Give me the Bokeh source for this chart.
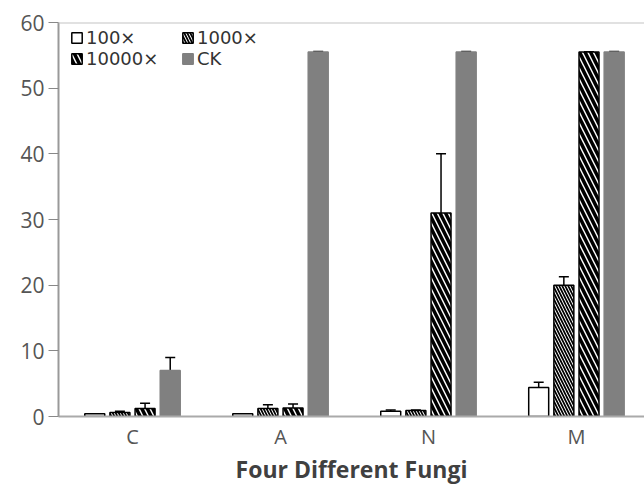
from bokeh.plotting import figure
from bokeh.models import ColumnDataSource, Whisker, TeeHead, Range1d, FixedTicker, Legend, LegendItem, Span
from bokeh.embed import file_html
from bokeh.resources import INLINE

categories = ["C", "A", "N", "M"]
series = ["100×", "1000×", "10000×", "CK"]
v100 = [0.4, 0.4, 0.8, 4.4]
e100 = [0.0, 0.0, 0.2, 0.8]
v1000 = [0.6, 1.2, 0.9, 20.0]
e1000 = [0.2, 0.6, 0.1, 1.3]
v10000 = [1.2, 1.3, 31.0, 55.5]
e10000 = [0.8, 0.6, 9.0, 0.0]
vck = [7.0, 55.5, 55.5, 55.5]
eck = [2.0, 0.1, 0.1, 0.1]
yticks = [0, 10, 20, 30, 40, 50, 60]

FONT = "Open Sans"
p = figure(width=644, height=487, output_backend="svg", toolbar_location=None,
           x_range=Range1d(-0.5, 3.46), y_range=Range1d(0, 60),
           min_border_left=58, min_border_right=0, min_border_top=22, min_border_bottom=70)
p.background_fill_color = "white"
p.border_fill_color = "white"
p.outline_line_color = None
p.grid.visible = False
p.add_layout(Span(location=60, dimension="width", line_color="#c4c4c4", line_width=2))

xs = list(range(len(categories)))
offsets = [-0.255, -0.085, 0.085, 0.255]
bw = 0.135
styles = [
    dict(fill_color="white", line_color="black", hatch_pattern=None),
    dict(fill_color="white", line_color="black", hatch_pattern="\\", hatch_color="black", hatch_scale=6, hatch_weight=1.7),
    dict(fill_color="white", line_color="black", hatch_pattern="\\", hatch_color="black", hatch_scale=11, hatch_weight=3.5),
    dict(fill_color="#808080", line_color="#808080", hatch_pattern=None),
]
vals = [v100, v1000, v10000, vck]
errs = [e100, e1000, e10000, eck]
renderers = []
for i, (vv, ee, st) in enumerate(zip(vals, errs, styles)):
    x = [xi + offsets[i] for xi in xs]
    src = ColumnDataSource(dict(x=x, top=vv, up=[a + b for a, b in zip(vv, ee)], lo=[a - b for a, b in zip(vv, ee)]))
    kw = {k: v for k, v in st.items() if v is not None}
    r = p.vbar(x="x", top="top", width=bw, source=src, line_width=1.5, **kw)
    renderers.append(r)
    w = Whisker(base="x", upper="up", lower="lo", source=src, line_color="black", line_width=1.5,
                upper_head=TeeHead(size=10, line_color="black", line_width=1.5),
                lower_head=TeeHead(size=10, line_color="black", line_width=1.5))
    p.add_layout(w)

# column-major legend layout: order items so rows read "100× 1000×" / "10000× CK"
order = [0, 2, 1, 3]
legend = Legend(items=[LegendItem(label=series[k], renderers=[renderers[k]]) for k in order],
                location=(8, 343), ncols=2, background_fill_alpha=0, border_line_alpha=0,
                label_text_font="DejaVu Sans", label_text_font_size="18px", label_text_color="#333333",
                glyph_width=13, glyph_height=13, label_standoff=3, spacing=0, padding=4,
                margin=0, label_height=14, label_width=95)
p.add_layout(legend)

p.xaxis.ticker = FixedTicker(ticks=xs)
p.xaxis.major_label_overrides = {i: c for i, c in enumerate(categories)}
p.xaxis.axis_label = "Four Different Fungi"
p.xaxis.axis_label_text_font = FONT
p.xaxis.axis_label_text_font_style = "bold"
p.xaxis.axis_label_text_font_size = "23px"
p.xaxis.axis_label_text_color = "#404040"
p.xaxis.axis_label_standoff = 0
p.xaxis.major_tick_line_color = None
p.xaxis.minor_tick_line_color = None
p.xaxis.axis_line_color = "#aaaaaa"
p.xaxis.axis_line_width = 2
p.xaxis.major_label_text_font = FONT
p.xaxis.major_label_text_font_size = "20px"
p.xaxis.major_label_text_color = "#555555"
p.xaxis.major_label_standoff = 0

p.yaxis.ticker = FixedTicker(ticks=yticks)
p.yaxis.minor_tick_line_color = None
p.yaxis.major_tick_in = 0
p.yaxis.major_tick_out = 10
p.yaxis.major_tick_line_color = "#888888"
p.yaxis.axis_line_color = "#999999"
p.yaxis.axis_line_width = 2
p.yaxis.major_label_text_font = FONT
p.yaxis.major_label_text_font_size = "21px"
p.yaxis.major_label_text_color = "#555555"
p.yaxis.major_label_standoff = 4

open("out.html", "w").write(file_html(p, INLINE))
